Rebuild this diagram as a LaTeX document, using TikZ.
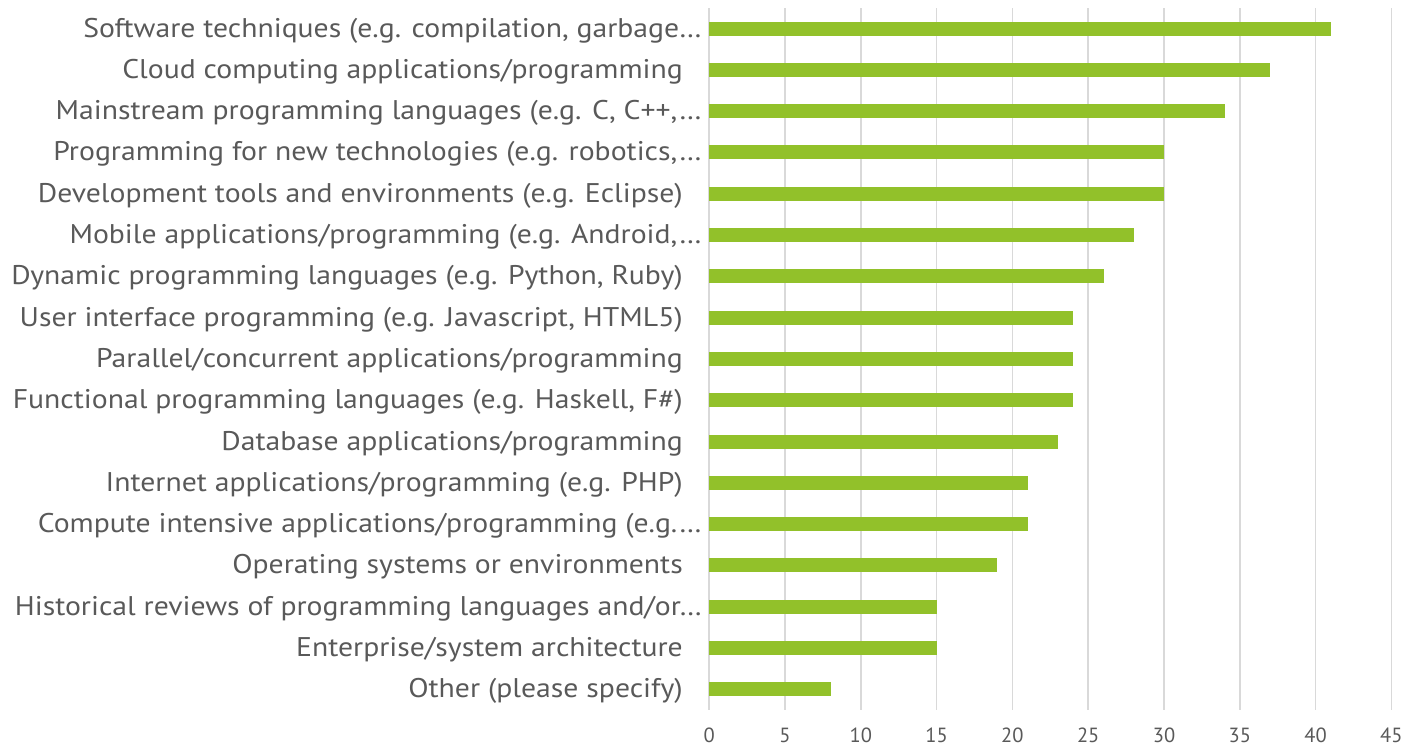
\documentclass[tikz,border=0pt]{standalone}
\usepackage{fontspec}
\setmainfont{PT Sans}
\newfontfamily\catfont[FakeStretch=1.1]{PT Sans}
\definecolor{bargreen}{HTML}{92C12A}
\definecolor{labelgray}{HTML}{595959}
\definecolor{gridgray}{HTML}{D9D9D9}
\begin{document}
\begin{tikzpicture}[x=1pt,y=-1pt,
  catlabel/.style={anchor=base east,inner sep=0pt,text=labelgray,font=\catfont\fontsize{27}{32}\selectfont},
  ticklabel/.style={anchor=base,inner sep=0pt,text=labelgray,font=\fontsize{20.5}{24}\selectfont},
  gridline/.style={draw=gridgray,line width=1.5pt},
  barstyle/.style={fill=bargreen,draw=none}]
\useasboundingbox (0,0) rectangle (1407,747);
% grid
\foreach \v [count=\i from 0] in {0,5,...,45}{
  \coordinate (gt\i) at ({709.2+15.16*\v},8);
  \coordinate (gb\i) at ({709.2+15.16*\v},710);
  \draw[gridline] (gt\i) -- (gb\i);
  \node[ticklabel] (tick\i) at ({709.2+15.16*\v},742.5) {\v};
}
% bars
\foreach \val/\lab/\rx [count=\k from 0] in {
 41/{Software techniques (e.g. compilation, garbage…}/702,
 37/{Cloud computing applications/programming}/683,
 34/{Mainstream programming languages (e.g. C, C++,…}/702,
 30/{Programming for new technologies (e.g. robotics,…}/702,
 30/{Development tools and environments (e.g. Eclipse)}/683,
 28/{Mobile applications/programming (e.g. Android,…}/702,
 26/{Dynamic programming languages (e.g. Python, Ruby)}/683,
 24/{User interface programming (e.g. Javascript, HTML5)}/683,
 24/{Parallel/concurrent applications/programming}/683,
 24/{Functional programming languages (e.g. Haskell, F\#)}/683,
 23/{Database applications/programming}/683,
 21/{Internet applications/programming (e.g. PHP)}/683,
 21/{Compute intensive applications/programming (e.g.…}/702,
 19/{Operating systems or environments}/683,
 15/{Historical reviews of programming languages and/or…}/702,
 15/{Enterprise/system architecture}/683,
 8/{Other (please specify)}/683}{
  \pgfmathsetmacro{\yc}{28.5+41.3*\k}
  \node[barstyle,inner sep=0pt,anchor=west,minimum height=14pt,minimum width={15.16*\val}] (bar\k) at (709.2,\yc) {};
  \node[catlabel] (lab\k) at (\rx,\yc+8.5) {\lab};
}
\end{tikzpicture}
\end{document}
